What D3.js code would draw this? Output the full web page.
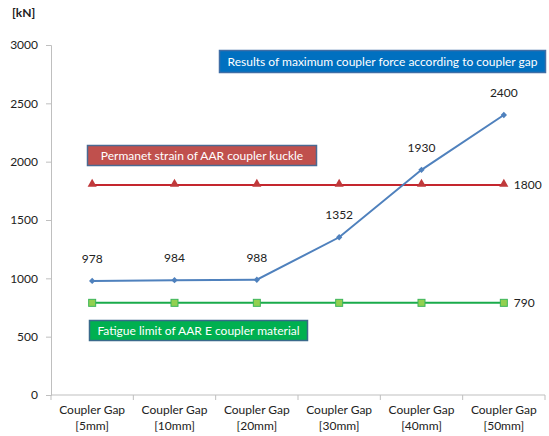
<!DOCTYPE html>
<html>
<head>
<meta charset="utf-8">
<script src="https://cdn.jsdelivr.net/npm/d3@7"></script>
<style>
  html, body { margin: 0; padding: 0; background: #fff; }
  svg text { font-family: Lato, "Open Sans", sans-serif; }
</style>
</head>
<body>
<svg id="chart" width="549" height="436"></svg>
<script>
// Coupler gap categories and force series (kN)
const categories = ["[5mm]", "[10mm]", "[20mm]", "[30mm]", "[40mm]", "[50mm]"];
const maxCouplerForce = [978, 984, 988, 1352, 1930, 2400];
const permanentStrain = [1800, 1800, 1800, 1800, 1800, 1800];
const fatigueLimit = [790, 790, 790, 790, 790, 790];
const yTicks = [0, 500, 1000, 1500, 2000, 2500, 3000];

const svg = d3.select("#chart");
const margin = { left: 51, right: 4, top: 45, bottom: 41 };
const W = 549, H = 436;

const x = d3.scaleBand().domain(categories).range([margin.left, W - margin.right]);
const y = d3.scaleLinear().domain([0, 3000]).range([H - margin.bottom, margin.top]);
const cx = c => x(c) + x.bandwidth() / 2;

const axisColor = "#bfbfbf";
const textColor = "#222";

// y axis
const yAxis = svg.append("g").attr("transform", `translate(${margin.left},0)`)
  .call(d3.axisLeft(y).tickValues(yTicks).tickSize(5).tickPadding(8).tickFormat(d3.format("d")));
yAxis.select(".domain").attr("stroke", axisColor);
yAxis.selectAll(".tick line").attr("stroke", axisColor);
yAxis.selectAll(".tick text").attr("fill", textColor).style("font-size", "12px");

// x axis: ticks between categories
const xAxisG = svg.append("g").attr("transform", `translate(0,${y(0)})`);
xAxisG.append("line").attr("x1", margin.left).attr("x2", W - margin.right)
  .attr("stroke", axisColor);
const bounds = categories.map(c => x(c)).concat([x(categories[categories.length - 1]) + x.bandwidth()]);
xAxisG.selectAll("line.tk").data(bounds).join("line").attr("class", "tk")
  .attr("x1", d => d).attr("x2", d => d).attr("y1", 0).attr("y2", 5).attr("stroke", axisColor);
const xl = xAxisG.selectAll("text.xl").data(categories).join("text").attr("class", "xl")
  .attr("x", d => cx(d)).attr("text-anchor", "middle").attr("fill", textColor)
  .style("font-size", "12px");
xl.append("tspan").attr("x", d => cx(d)).attr("y", 19).text("Coupler Gap");
xl.append("tspan").attr("x", d => cx(d)).attr("y", 35).text(d => d);

// unit label
svg.append("text").attr("x", 12).attr("y", 17).text("[kN]")
  .attr("fill", textColor).style("font-size", "12px").style("font-weight", "bold");

const line = d3.line().x((d, i) => cx(categories[i])).y(d => y(d));

// fatigue limit series
svg.append("path").datum(fatigueLimit).attr("d", line)
  .attr("fill", "none").attr("stroke", "#1aab4b").attr("stroke-width", 2);
svg.selectAll("rect.sq").data(fatigueLimit).join("rect").attr("class", "sq")
  .attr("x", (d, i) => cx(categories[i]) - 3.5).attr("y", d => y(d) - 3.5)
  .attr("width", 7).attr("height", 7).attr("fill", "#92d050").attr("stroke", "#3cb55a").attr("stroke-width", 1);

// permanent strain series
svg.append("path").datum(permanentStrain).attr("d", line)
  .attr("fill", "none").attr("stroke", "#c4262e").attr("stroke-width", 2);
svg.selectAll("path.tri").data(permanentStrain).join("path").attr("class", "tri")
  .attr("d", d3.symbol().type(d3.symbolTriangle).size(36))
  .attr("transform", (d, i) => `translate(${cx(categories[i])},${y(d) - 1})`)
  .attr("fill", "#c0393b");

// max coupler force series
svg.append("path").datum(maxCouplerForce).attr("d", line)
  .attr("fill", "none").attr("stroke", "#4f81bd").attr("stroke-width", 2);
svg.selectAll("path.dia").data(maxCouplerForce).join("path").attr("class", "dia")
  .attr("d", d3.symbol().type(d3.symbolSquare).size(20))
  .attr("transform", (d, i) => `translate(${cx(categories[i])},${y(d)}) rotate(45)`)
  .attr("fill", "#4f81bd");

// value labels
svg.selectAll("text.vl").data(maxCouplerForce).join("text").attr("class", "vl")
  .attr("x", (d, i) => cx(categories[i])).attr("y", d => y(d) - 18)
  .attr("text-anchor", "middle").attr("fill", textColor).style("font-size", "12px")
  .text(d => d);
const last = categories.length - 1;
svg.append("text").attr("x", cx(categories[last]) + 10).attr("y", y(permanentStrain[last]) + 4)
  .attr("fill", textColor).style("font-size", "12px").text(permanentStrain[last]);
svg.append("text").attr("x", cx(categories[last]) + 10).attr("y", y(fatigueLimit[last]) + 4)
  .attr("fill", textColor).style("font-size", "12px").text(fatigueLimit[last]);

// annotation boxes
function box(x0, y0, w, h, fill, stroke, label) {
  svg.append("rect").attr("x", x0).attr("y", y0).attr("width", w).attr("height", h)
    .attr("fill", fill).attr("stroke", stroke).attr("stroke-width", 1.5);
  svg.append("text").attr("x", x0 + w / 2).attr("y", y0 + h / 2 + 4)
    .attr("text-anchor", "middle").attr("fill", "#fff").style("font-size", "12px")
    .text(label);
}
box(219.5, 50.5, 326, 22, "#0070c0", "#3f6ea6", "Results of maximum coupler force according to coupler gap");
box(87.5, 145.5, 229, 20, "#c0504d", "#4a6a92", "Permanet strain of AAR coupler kuckle");
box(89.5, 320.5, 218, 20, "#00b050", "#3a6a8a", "Fatigue limit of AAR E coupler material");
</script>
</body>
</html>
